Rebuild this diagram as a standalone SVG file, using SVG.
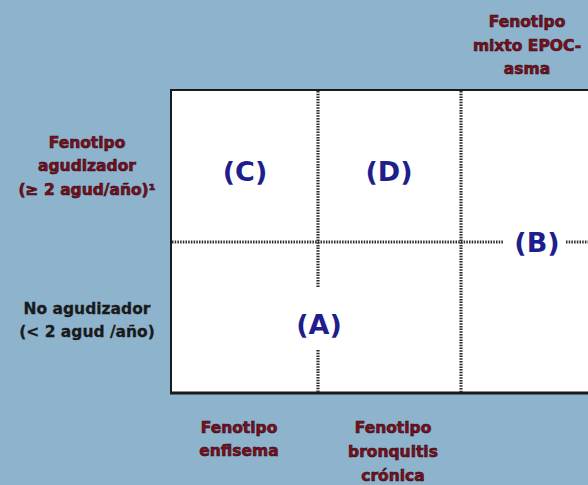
<svg xmlns="http://www.w3.org/2000/svg" width="588" height="485" viewBox="0 0 588 485">
<style>
.lbl{font-family:"DejaVu Sans","Liberation Sans",sans-serif;font-weight:bold;font-size:15.5px;fill:#7a1020;text-anchor:middle;stroke:#3a0a10;stroke-width:0.6}
.blk{font-family:"DejaVu Sans","Liberation Sans",sans-serif;font-weight:bold;font-size:15.5px;fill:#1a1a1a;text-anchor:middle;stroke:#1a1a1a;stroke-width:0.3}
.q{font-family:"DejaVu Sans","Liberation Sans",sans-serif;font-weight:bold;font-size:27px;fill:#1e1e8c;text-anchor:middle}
.dl{stroke:#2e2e2e;stroke-width:3.2;stroke-dasharray:1.5 1.2;fill:none}
</style>
<rect width="588" height="485" fill="#8db3cd"/>
<g id="grid">
<rect x="171" y="90" width="430" height="303" fill="#ffffff"/>
<line x1="171" y1="90" x2="588" y2="90" stroke="#1a1a1a" stroke-width="2"/>
<line x1="171" y1="89" x2="171" y2="394" stroke="#1a1a1a" stroke-width="2"/>
<line x1="170" y1="393" x2="588" y2="393" stroke="#1a1a1a" stroke-width="3"/>
</g>
<g id="connectors">
<line class="dl" x1="318" y1="91" x2="318" y2="288"/>
<line class="dl" x1="318" y1="350" x2="318" y2="392"/>
<line class="dl" x1="461" y1="91" x2="461" y2="392"/>
<line class="dl" x1="172" y1="242" x2="503" y2="242"/>
<line class="dl" x1="566" y1="242" x2="588" y2="242"/>
</g>
<g id="C"><text class="q" x="245" y="181">(C)</text></g>
<g id="D"><text class="q" x="389" y="181">(D)</text></g>
<g id="A"><text class="q" x="319" y="334">(A)</text></g>
<g id="B"><text class="q" x="537" y="252">(B)</text></g>
<g id="mixto">
<text class="lbl" x="527" y="27">Fenotipo</text>
<text class="lbl" x="527" y="51">mixto EPOC-</text>
<text class="lbl" x="527" y="74">asma</text>
</g>
<g id="agudizador">
<text class="lbl" x="87" y="148">Fenotipo</text>
<text class="lbl" x="87" y="171">agudizador</text>
<text class="lbl" x="87" y="195">(≥ 2 agud/año)¹</text>
</g>
<g id="noagudizador">
<text class="blk" x="87" y="314">No agudizador</text>
<text class="blk" x="87" y="337">(&lt; 2 agud /año)</text>
</g>
<g id="enfisema">
<text class="lbl" x="239" y="433">Fenotipo</text>
<text class="lbl" x="239" y="456">enfisema</text>
</g>
<g id="bronquitis">
<text class="lbl" x="393" y="433">Fenotipo</text>
<text class="lbl" x="393" y="457">bronquitis</text>
<text class="lbl" x="393" y="481">crónica</text>
</g>
</svg>
